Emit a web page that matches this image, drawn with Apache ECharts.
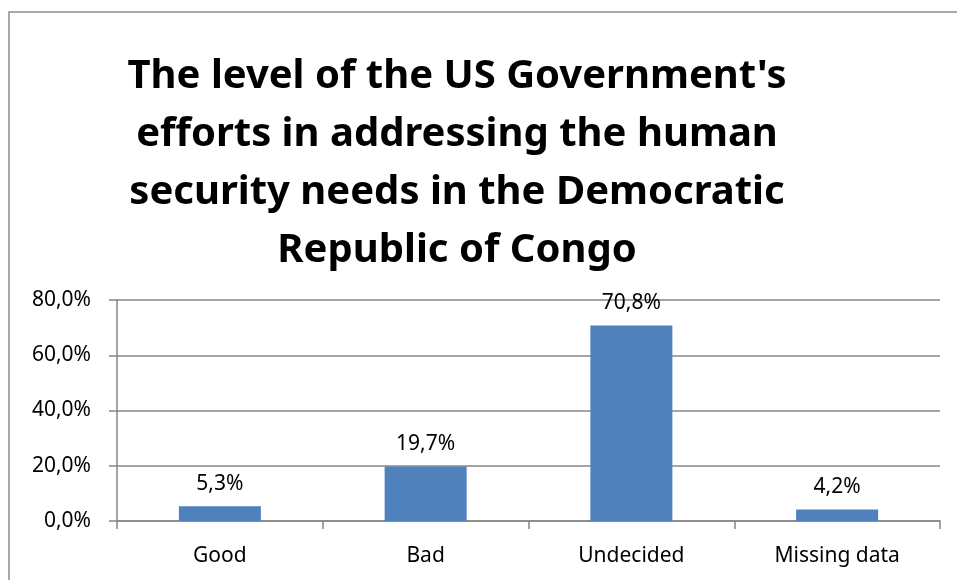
<!DOCTYPE html>
<html>
<head>
<meta charset="utf-8">
<script src="https://cdn.jsdelivr.net/npm/echarts@6/dist/echarts.min.js"></script>
<style>
  html, body { margin: 0; padding: 0; background: #fff; }
  #chart { width: 957px; height: 580px; }
</style>
</head>
<body>
<div id="chart"></div>
<script>
const categories = ['Good', 'Bad', 'Undecided', 'Missing data']
const shares = [0.053, 0.197, 0.708, 0.042]
const yTicks = [0, 0.2, 0.4, 0.6, 0.8]
const titleText = "The level of the US Government's\nefforts in addressing the human\nsecurity needs in the Democratic\nRepublic of Congo"

// 0.708 -> "70,8%"
const pct = (v, d) => (v * 100).toFixed(d).replace('.', ',') + '%'

const chart = echarts.init(document.getElementById('chart'))
chart.setOption({
    animation: false,
    backgroundColor: '#fff',
    title: {
        text: titleText,
        left: 452,
        top: 43,
        textAlign: 'center',
        textStyle: {
            fontFamily: 'Noto Sans',
            fontWeight: 'bold',
            fontSize: 40,
            lineHeight: 58,
            color: '#000'
        }
    },
    graphic: [
        {
            // outer chart frame (right/bottom edges run off the page)
            type: 'rect',
            shape: { x: 9, y: 12, width: 1000, height: 620 },
            style: { fill: 'none', stroke: '#8c8c8c', lineWidth: 1.5 },
            silent: true
        }
    ],
    grid: {
        left: 117,
        right: 17,
        top: 300,
        bottom: 59
    },
    xAxis: {
        type: 'category',
        data: categories,
        axisLine: { lineStyle: { color: '#868686', width: 1.5 } },
        axisTick: { show: true, length: 8, lineStyle: { color: '#868686', width: 1.5 } },
        axisLabel: {
            margin: 25,
            fontFamily: 'Noto Sans',
            fontSize: 21,
            color: '#000'
        }
    },
    yAxis: {
        type: 'value',
        min: yTicks[0],
        max: yTicks[yTicks.length - 1],
        interval: 0.2,
        axisLine: { show: true, lineStyle: { color: '#868686', width: 1.5 } },
        axisTick: { show: true, length: 8, lineStyle: { color: '#868686', width: 1.5 } },
        splitLine: { lineStyle: { color: '#868686', width: 1.5 } },
        axisLabel: {
            margin: 26,
            fontFamily: 'Noto Sans',
            fontSize: 21,
            color: '#000',
            formatter: v => pct(v, 1)
        }
    },
    series: [
        {
            type: 'bar',
            data: shares,
            barWidth: 82,
            itemStyle: { color: '#4f81bd' },
            label: {
                show: true,
                position: 'top',
                distance: 12,
                fontFamily: 'Noto Sans',
                fontSize: 21,
                color: '#000',
                formatter: p => pct(p.value, 1)
            }
        }
    ]
})
</script>
</body>
</html>
